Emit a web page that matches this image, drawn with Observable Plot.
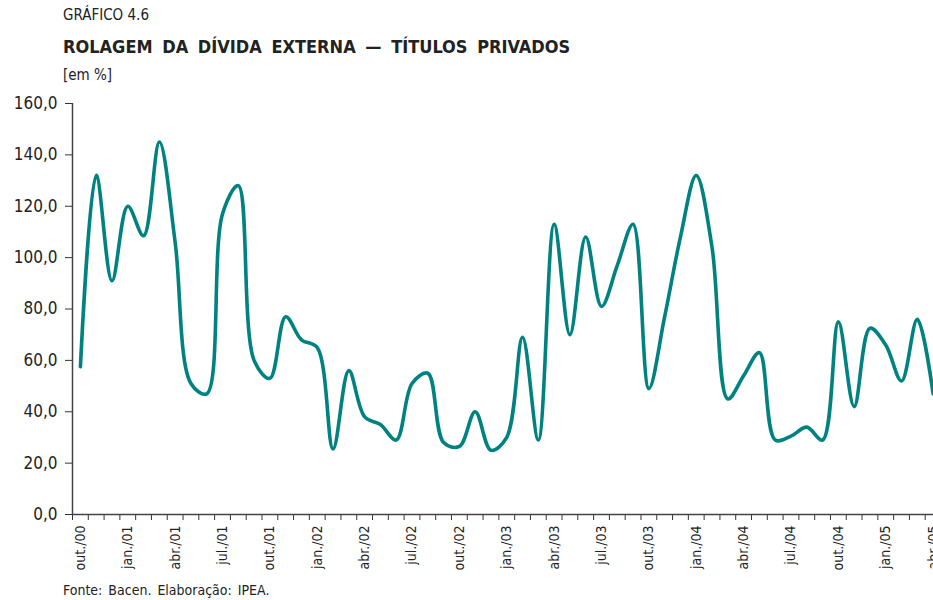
<!DOCTYPE html>
<html><head><meta charset="utf-8">
<script src="https://cdn.jsdelivr.net/npm/d3@7"></script>
<script src="https://cdn.jsdelivr.net/npm/@observablehq/plot@0.6"></script>
<style>
body{margin:0;background:#fff;font-family:"Liberation Sans Narrow","DejaVu Sans Condensed",sans-serif;color:#222;}
#wrap{position:relative;width:933px;height:600px;overflow:hidden}
.kicker{position:absolute;left:63px;top:6px;font-size:15px}
.title{position:absolute;left:63px;top:36px;font-size:18px;font-weight:bold;word-spacing:4px}
.unit{position:absolute;left:63px;top:66px;font-size:15px}
#chart{position:absolute;left:0;top:90px}
.src{position:absolute;left:63px;top:582px;font-size:14px;word-spacing:2px}
</style>
</head><body>
<div id="wrap">
<div class="kicker">GRÁFICO 4.6</div>
<div class="title">ROLAGEM DA DÍVIDA EXTERNA — TÍTULOS PRIVADOS</div>
<div class="unit">[em %]</div>
<div id="chart"></div>
<div class="src">Fonte: Bacen. Elaboração: IPEA.</div>
</div>
<script>
// Monthly series, out./00 .. abr./05 (55 months)
const values = [57.5, 132, 91, 120, 108.5, 145, 106, 51, 47, 117, 128, 60, 53, 77, 68, 65, 25.5, 56, 38, 35, 29, 51, 55, 28, 26.5, 40, 25, 30, 69, 29, 113, 70, 108, 81, 97, 113, 49, 77, 108, 132, 104, 45, 54, 63, 29, 30.5, 34, 29, 75, 42, 72.5, 66, 52, 76, 47];
const tickLabels = ["out./00","jan./01","abr./01","jul./01","out./01","jan./02","abr./02","jul./02","out./02","jan./03","abr./03","jul./03","out./03","jan./04","abr./04","jul./04","out./04","jan./05","abr./05"];
const yTicks = [0, 20, 40, 60, 80, 100, 120, 140, 160];

const data = values.map((v, i) => ({i, v}));
const labelIdx = tickLabels.map((_, k) => k * 3);
const monthEdges = d3.range(values.length).map(i => i - 0.5);
const font = '"Liberation Sans Narrow","DejaVu Sans Condensed",sans-serif';

const chart = Plot.plot({
  width: 933, height: 480,
  marginLeft: 72, marginRight: 0, marginTop: 13, marginBottom: 56,
  x: {domain: [-0.5, 54.025], axis: null},
  y: {domain: [0, 160], axis: null},
  style: {fontFamily: font, color: "#222", background: "#fff"},
  marks: [
    Plot.axisY({ticks: yTicks, tickFormat: d => d.toFixed(1).replace(".", ","), tickSize: 7, tickPadding: 8, fontSize: 17, anchor: "left", stroke: "#333", label: null}),
    Plot.axisX({ticks: monthEdges, tickFormat: () => "", tickSize: 6, anchor: "bottom", stroke: "#333", label: null}),
    Plot.axisX({ticks: labelIdx, tickFormat: d => tickLabels[d / 3], tickSize: 0, tickPadding: 11, tickRotate: -90, fontSize: 14, anchor: "bottom", label: null}),
    Plot.ruleY([0], {stroke: "#444", strokeWidth: 1.5}),
    Plot.ruleX([-0.5], {stroke: "#444", strokeWidth: 1.5}),
    Plot.line(data, {x: "i", y: "v", curve: "catmull-rom", stroke: "#008280", strokeWidth: 3.6})
  ]
});
document.getElementById("chart").appendChild(chart);
</script>
</body></html>
